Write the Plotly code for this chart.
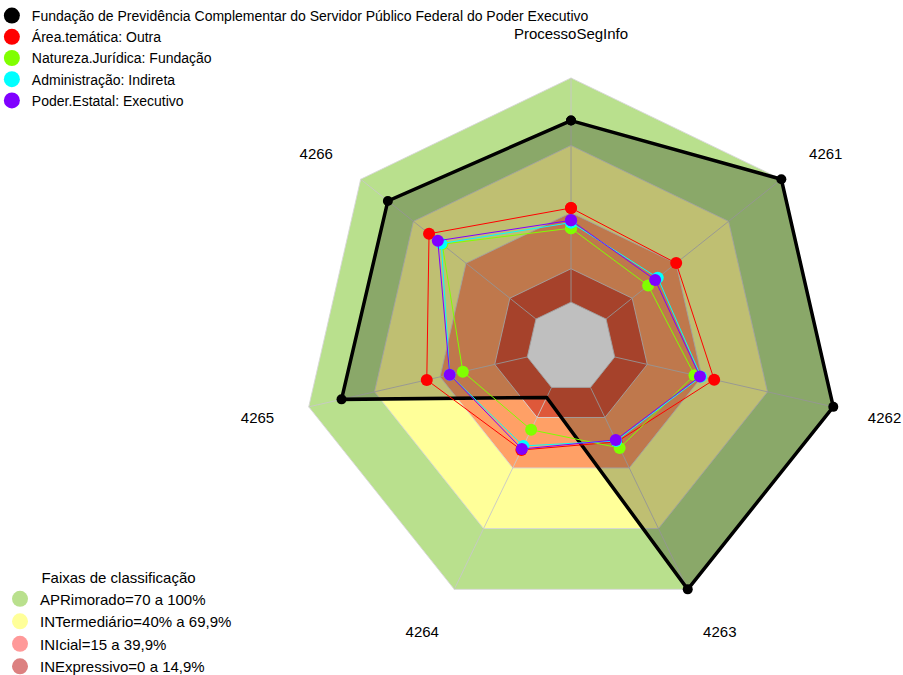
import plotly.graph_objects as go

# Axes of the radar, clockwise from the top
categories = ["ProcessoSegInfo", "4261", "4262", "4263", "4264", "4265", "4266"]

# Scores (%) per axis for each group
fundacao = [81, 100, 100, 100, 5, 85, 84.5]
area_tematica = [42, 40, 45.5, 27, 31, 46, 61]
natureza_juridica = [33, 24, 36.5, 30, 21, 29.5, 53.5]
administracao = [35.5, 29.5, 39.5, 26.5, 29, 35.5, 54]
poder_estatal = [36.5, 28, 39, 26, 30.5, 35.5, 56]

series_names = [
    "Fundação de Previdência Complementar do Servidor Público Federal do Poder Executivo",
    "Área.temática: Outra",
    "Natureza.Jurídica: Fundação",
    "Administração: Indireta",
    "Poder.Estatal: Executivo",
]

# Classification bands: upper limit, chart fill, legend swatch
band_labels = ["APRimorado=70 a 100%", "INTermediário=40% a 69,9%",
               "INIcial=15 a 39,9%", "INExpressivo=0 a 14,9%"]
band_upper = [100, 69.9, 39.9, 14.9]
band_fill = ["#B9E08D", "#FFFF99", "#FFA066", "#DE583A"]
band_swatch = ["#B9E08D", "#FFFF99", "#FF9999", "#DC8080"]
band_floor = 0

FONT = "Liberation Sans, Arial, sans-serif"


def closed(values):
    return list(values) + [values[0]]


theta_closed = closed(categories)

fig = go.Figure()

# Concentric band polygons, outermost first
for upper, col in zip(band_upper, band_fill):
    fig.add_trace(go.Scatterpolar(
        r=closed([upper] * len(categories)), theta=theta_closed,
        mode="lines", fill="toself", fillcolor=col,
        line=dict(color="rgba(215,215,215,0.9)", width=1),
        showlegend=False, hoverinfo="skip"))

# Empty core below the zero level
fig.add_trace(go.Scatterpolar(
    r=closed([band_floor] * len(categories)), theta=theta_closed,
    mode="lines", fill="toself", fillcolor="white",
    line=dict(color="rgba(215,215,215,0.9)", width=1),
    showlegend=False, hoverinfo="skip"))

# Axis spokes from the zero ring to the outer edge
for cat in categories:
    fig.add_trace(go.Scatterpolar(
        r=[band_floor, band_upper[0]], theta=[cat, cat], mode="lines",
        line=dict(color="rgba(200,200,200,0.9)", width=1),
        showlegend=False, hoverinfo="skip"))

# Group series
series = [fundacao, area_tematica, natureza_juridica, administracao, poder_estatal]
colors = ["#000000", "#FF0000", "#80FF00", "#00FFFF", "#8000FF"]

for i, (vals, name, col) in enumerate(zip(series, series_names, colors)):
    main = i == 0
    fig.add_trace(go.Scatterpolar(
        r=closed(vals), theta=theta_closed,
        mode="lines+markers",
        fill="toself" if main else None,
        fillcolor="rgba(0,0,0,0.25)" if main else None,
        line=dict(color=col, width=3.5 if main else 1),
        marker=dict(color=col, size=10 if main else 12),
        name=name, showlegend=False))
    # legend entry shown as a round marker
    fig.add_trace(go.Scatterpolar(
        r=[None], theta=[None], mode="markers",
        marker=dict(color=col, size=16), name=name, legend="legend"))

# Band legend entries
for lab, col in zip(band_labels, band_swatch):
    fig.add_trace(go.Scatterpolar(
        r=[None], theta=[None], mode="markers",
        marker=dict(color=col, size=16), name=lab, legend="legend2"))

fig.update_layout(
    width=903, height=675,
    margin=dict(l=0, r=0, t=0, b=0, autoexpand=False),
    paper_bgcolor="white",
    plot_bgcolor="white",
    font=dict(family=FONT, color="black"),
    polar=dict(
        domain=dict(x=[0.2957, 0.9690], y=[0.0356, 0.9363]),
        bgcolor="rgba(0,0,0,0)",
        gridshape="linear",
        radialaxis=dict(range=[-20, 115.6], visible=False, showgrid=False),
        angularaxis=dict(
            type="category", categoryorder="array", categoryarray=categories,
            direction="clockwise", rotation=90,
            showgrid=False, showline=False, ticks="",
            tickfont=dict(family=FONT, size=15, color="black")),
    ),
    legend=dict(
        x=-0.009, y=1.0, xanchor="left", yanchor="top",
        bgcolor="rgba(0,0,0,0)", itemsizing="trace",
        font=dict(family=FONT, size=14, color="black"),
        tracegroupgap=0),
    legend2=dict(
        x=0.0, y=-0.012, xanchor="left", yanchor="bottom",
        bgcolor="rgba(0,0,0,0)", itemsizing="trace",
        title=dict(text="Faixas de classificação", side="top center",
                   font=dict(family=FONT, size=15, color="black")),
        font=dict(family=FONT, size=15, color="black"),
        tracegroupgap=0),
)

fig.write_html("out.html")
